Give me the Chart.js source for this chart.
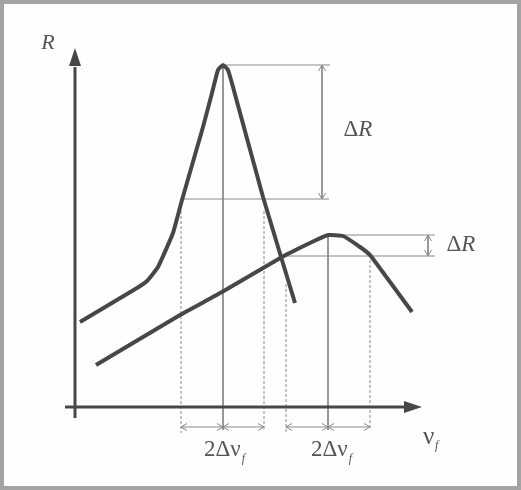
<!DOCTYPE html>
<html>
<head>
<meta charset="utf-8">
<script src="https://cdn.jsdelivr.net/npm/chart.js@4/dist/chart.umd.min.js"></script>
<style>
html,body{margin:0;padding:0;background:#fff;}
canvas{display:block;}
</style>
</head>
<body>
<canvas id="c" width="521" height="490"></canvas>
<script>
// Narrow resonance curve (frequency offset vs response)
const narrowFreq = [5, 62, 72, 83, 98, 107, 128, 137, 143, 148, 153, 158, 188, 220];
const narrowResp = [85, 119, 126, 140, 174, 207, 280, 314, 337, 342, 337, 320, 210, 104];
// Broad resonance curve
const broadFreq = [21, 105, 147, 207, 237, 253, 268, 285, 295, 337];
const broadResp = [42, 92, 115, 150, 165, 172, 171, 160, 152, 95];
// Key levels
const peak1 = {f: 148, r: 342}, half1 = {fL: 106, fR: 189, r: 208};
const peak2 = {f: 253, r: 172}, half2 = {fL: 211, fR: 295, r: 151};
const labels = {R: 'R', dR: 'ΔR', width: '2Δν', nu: 'ν', sub: 'f'};

const pts = (xs, ys) => xs.map((x, i) => ({x, y: ys[i]}));
const seg = (x1, y1, x2, y2) => [{x: x1, y: y1}, {x: x2, y: y2}];
const axisBase = -22;
const guide = (data, dashed) => ({data, showLine: true, borderColor: '#8a8a8a', borderWidth: 1,
  pointRadius: 0, borderDash: dashed ? [3, 2] : [], tension: 0});

const datasets = [
  {data: pts(narrowFreq, narrowResp), showLine: true, borderColor: '#474747', borderWidth: 4, pointRadius: 0, tension: 0.12, borderJoinStyle: 'round', borderCapStyle: 'butt'},
  {data: pts(broadFreq, broadResp), showLine: true, borderColor: '#474747', borderWidth: 4, pointRadius: 0, tension: 0.12, borderJoinStyle: 'round', borderCapStyle: 'butt'},
  guide(seg(peak1.f, peak1.r, 255, peak1.r)),
  guide(seg(half1.fL, half1.r, 254, half1.r)),
  guide(seg(247, peak1.r, 247, half1.r)),
  guide(seg(peak2.f, peak2.r, 360, peak2.r)),
  guide(seg(half2.fL, half2.r, 360, half2.r)),
  guide(seg(353, peak2.r, 353, half2.r)),
  guide(seg(peak1.f, peak1.r, peak1.f, axisBase - 1)),
  guide(seg(peak2.f, peak2.r, peak2.f, axisBase - 1)),
  guide(seg(half1.fL, half1.r - 12, half1.fL, axisBase - 4), true),
  guide(seg(half1.fR, half1.r - 12, half1.fR, axisBase - 2), true),
  guide(seg(half2.fL, half2.r - 28, half2.fL, axisBase - 4), true),
  guide(seg(half2.fR, half2.r - 4, half2.fR, axisBase - 1), true),
  guide(seg(half1.fL, -20, half1.fR, -20)),
  guide(seg(half2.fL, -20, half2.fR, -20))
];

const decor = {
  id: 'decor',
  beforeDraw(chart) {
    const ctx = chart.ctx;
    ctx.save();
    ctx.fillStyle = '#fefefe';
    ctx.fillRect(0, 0, chart.width, chart.height);
    ctx.strokeStyle = '#a3a3a3';
    ctx.lineWidth = 4;
    ctx.strokeRect(2, 2, chart.width - 4, chart.height - 4);
    ctx.restore();
  },
  afterDatasetsDraw(chart) {
    const ctx = chart.ctx, xs = chart.scales.x, ys = chart.scales.y;
    const X = v => xs.getPixelForValue(v), Y = v => ys.getPixelForValue(v);
    ctx.save();
    // axes
    ctx.strokeStyle = '#474747'; ctx.fillStyle = '#474747'; ctx.lineWidth = 3;
    ctx.beginPath(); ctx.moveTo(X(0), Y(-11)); ctx.lineTo(X(0), Y(340)); ctx.stroke();
    ctx.beginPath(); ctx.moveTo(X(-10), Y(0)); ctx.lineTo(X(335), Y(0)); ctx.stroke();
    // filled arrowheads
    ctx.beginPath(); ctx.moveTo(X(0), Y(359)); ctx.lineTo(X(0) - 6, Y(359) + 18); ctx.lineTo(X(0) + 6, Y(359) + 18); ctx.closePath(); ctx.fill();
    ctx.beginPath(); ctx.moveTo(X(347), Y(0)); ctx.lineTo(X(347) - 18, Y(0) - 6); ctx.lineTo(X(347) - 18, Y(0) + 6); ctx.closePath(); ctx.fill();
    // open guide arrowheads
    ctx.strokeStyle = '#8a8a8a'; ctx.lineWidth = 1;
    const head = (px, py, dx, dy) => {
      const L = 6, W = 3.5;
      const nx = -dy, ny = dx;
      ctx.beginPath();
      ctx.moveTo(px - dx * L + nx * W, py - dy * L + ny * W);
      ctx.lineTo(px, py);
      ctx.lineTo(px - dx * L - nx * W, py - dy * L - ny * W);
      ctx.stroke();
    };
    head(X(247), Y(peak1.r), 0, -1); head(X(247), Y(half1.r), 0, 1);
    head(X(353), Y(peak2.r), 0, -1); head(X(353), Y(half2.r), 0, 1);
    [[half1.fL, peak1.f], [peak1.f, half1.fR], [half2.fL, peak2.f], [peak2.f, half2.fR]].forEach(([a, b]) => {
      head(X(a), Y(-20), -1, 0); head(X(b), Y(-20), 1, 0);
    });
    // text
    ctx.fillStyle = '#555';
    ctx.textBaseline = 'middle';
    const serif = '"Liberation Serif", "DejaVu Serif", serif';
    ctx.textAlign = 'center';
    ctx.font = 'italic 22px ' + serif;
    ctx.fillText(labels.R, X(-27), Y(364));
    const dR = (x, y) => {
      ctx.textAlign = 'left';
      ctx.font = '23px ' + serif;
      const w = ctx.measureText('Δ').width;
      const tw = w + (ctx.font = 'italic 23px ' + serif, ctx.measureText('R').width);
      const x0 = X(x) - tw / 2;
      ctx.font = '23px ' + serif; ctx.fillText('Δ', x0, Y(y));
      ctx.font = 'italic 23px ' + serif; ctx.fillText('R', x0 + w, Y(y));
    };
    dR(283, 277); dR(386, 162);
    const wid = (x, y) => {
      ctx.textAlign = 'left';
      ctx.font = '23px ' + serif;
      const w = ctx.measureText(labels.width).width;
      ctx.font = 'italic 12px ' + serif;
      const ws = ctx.measureText(labels.sub).width;
      const x0 = X(x) - (w + ws) / 2;
      ctx.font = '23px ' + serif; ctx.fillText(labels.width, x0, Y(y));
      ctx.font = 'italic 12px ' + serif; ctx.fillText(labels.sub, x0 + w + 1, Y(y) + 9);
    };
    wid(149, -43); wid(256, -43);
    ctx.font = '25px ' + serif; ctx.textAlign = 'left';
    ctx.fillText(labels.nu, X(348), Y(-30));
    ctx.font = 'italic 12px ' + serif;
    ctx.fillText(labels.sub, X(348) + 12, Y(-30) + 9);
    ctx.restore();
  }
};

new Chart(document.getElementById('c'), {
  type: 'scatter',
  data: {datasets},
  options: {
    responsive: false, animation: false,
    layout: {padding: 0},
    plugins: {legend: {display: false}, tooltip: {enabled: false}},
    scales: {
      x: {type: 'linear', display: false, min: -75, max: 446},
      y: {type: 'linear', display: false, min: -83, max: 407}
    }
  },
  plugins: [decor]
});
</script>
</body>
</html>
